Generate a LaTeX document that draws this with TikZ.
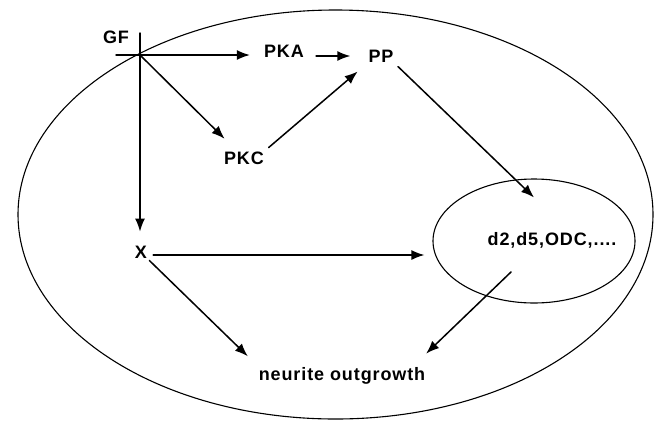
\documentclass[tikz,border=0pt]{standalone}
\usepackage{fontspec}
\newfontfamily\labelfont{Liberation Sans}[LetterSpace=5]
\usetikzlibrary{arrows.meta, positioning, shapes.geometric}
\tikzset{every node/.style={font=\labelfont\bfseries\fontsize{18}{21}\selectfont, inner sep=0pt}, every path/.style={line cap=round, line join=round}, >={Latex[length=13pt, width=10pt]}}

\begin{document}
\begin{tikzpicture}[x=1pt, y=-1pt, link/.style={->, line width=1.5pt}]
    \useasboundingbox (0,0) rectangle (658,421);
    \draw [line width=1.1pt] (335.5,214.5) ellipse [x radius=317.5, y radius=204.5];

    \node (gf) at (116,37) {GF};
    \coordinate (hub) at (140,55);
    \coordinate (top) at (140,33);
    \coordinate (left) at (116,55);
    \node (pka) at (284,51) {PKA};
    \node (pp) at (381,56) {PP};
    \node (pkc) at (244,158) {PKC};
    \node (x) at (141,252) {X};
    \node [
        ellipse,
        draw,
        line width=1.1pt,
        minimum width=202pt,
        minimum height=124pt
    ] (inner) at (534,241) {};
    \node [anchor=base] (genes) at (552,245) {d2,d5,ODC,....};
    \node [anchor=base] (outgrowth) at (342,380) {neurite outgrowth};

    \draw [link, shorten >=14pt] (left) -- (left -| pka.west);
    \draw [link, shorten <=12pt, shorten >=18pt] (pka.east |- pp.west) -- (pp.west);
    \draw [link, shorten >=18pt] (hub) -- (pkc);
    \draw [link, shorten <=6pt, shorten >=14pt] (pkc.north east) -- (pp.south west);
    \draw [link, shorten <=6pt] (pp.south east) -- ([yshift=-19pt]inner.north);
    \draw [link, shorten >=14pt] (top) -- (top |- x.north);
    \draw [link, shorten <=6pt, shorten >=8pt] ([yshift=-3pt]x.east) -- ([yshift=-14pt]inner.west);
    \draw [link, shorten <=3pt, shorten >=15pt] (x.south east) -- (outgrowth.north west);
    \draw [link, shorten >=19pt] ([shift={(-23pt,-31pt)}]inner.center) -- ([xshift=-13pt]outgrowth.north east);
\end{tikzpicture}
\end{document}
